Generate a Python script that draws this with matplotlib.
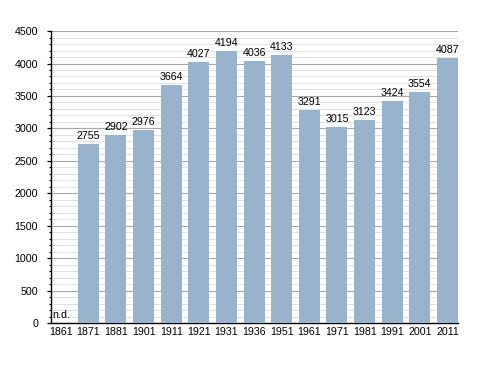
import matplotlib
matplotlib.use("Agg")
import matplotlib.pyplot as plt
from matplotlib.ticker import MultipleLocator

plt.rcParams["font.family"] = ["Liberation Sans", "DejaVu Sans"]

years = ["1861", "1871", "1881", "1901", "1911", "1921", "1931", "1936",
         "1951", "1961", "1971", "1981", "1991", "2001", "2011"]
population = [0, 2755, 2902, 2976, 3664, 4027, 4194, 4036,
              4133, 3291, 3015, 3123, 3424, 3554, 4087]
labels = ["n.d.", "2755", "2902", "2976", "3664", "4027", "4194", "4036",
          "4133", "3291", "3015", "3123", "3424", "3554", "4087"]

FS = 7.7

fig = plt.figure(figsize=(4.88, 3.73), dpi=100)
ax = fig.add_axes([0.1035, 0.1332, 0.835, 0.7836])

x = list(range(len(years)))
ax.bar(x, population, width=0.76, color="#9ab3cc", zorder=3)

for xi, v, lab in zip(x, population, labels):
    if lab == "n.d.":
        ax.annotate(lab, (xi - 0.37, v), xytext=(2, 5), textcoords="offset pixels",
                    ha="left", va="baseline", fontsize=FS, zorder=4)
    else:
        ax.annotate(lab, (xi, v), xytext=(0, 5), textcoords="offset pixels",
                    ha="center", va="baseline", fontsize=FS, zorder=4)

ax.set_xlim(-0.37, len(years) - 1 + 0.38)
ax.set_ylim(0, 4500)
ax.set_xticks(x)
ax.set_xticklabels(years, fontsize=FS)
ax.tick_params(axis="x", length=0, pad=3)
ax.yaxis.set_major_locator(MultipleLocator(500))
ax.yaxis.set_minor_locator(MultipleLocator(100))
ax.tick_params(axis="y", which="major", length=3.0, width=0.9, labelsize=FS, pad=6)
ax.tick_params(axis="y", which="minor", length=1.8, width=0.8)
ax.grid(axis="y", which="major", color="#a8a8a8", linewidth=0.8, zorder=0)
ax.grid(axis="y", which="minor", color="#dddddd", linewidth=0.6, zorder=0)
for s in ["top", "right"]:
    ax.spines[s].set_visible(False)
ax.spines["left"].set_linewidth(1.0)
ax.spines["bottom"].set_linewidth(1.0)

fig.savefig("out.png", dpi=100)
